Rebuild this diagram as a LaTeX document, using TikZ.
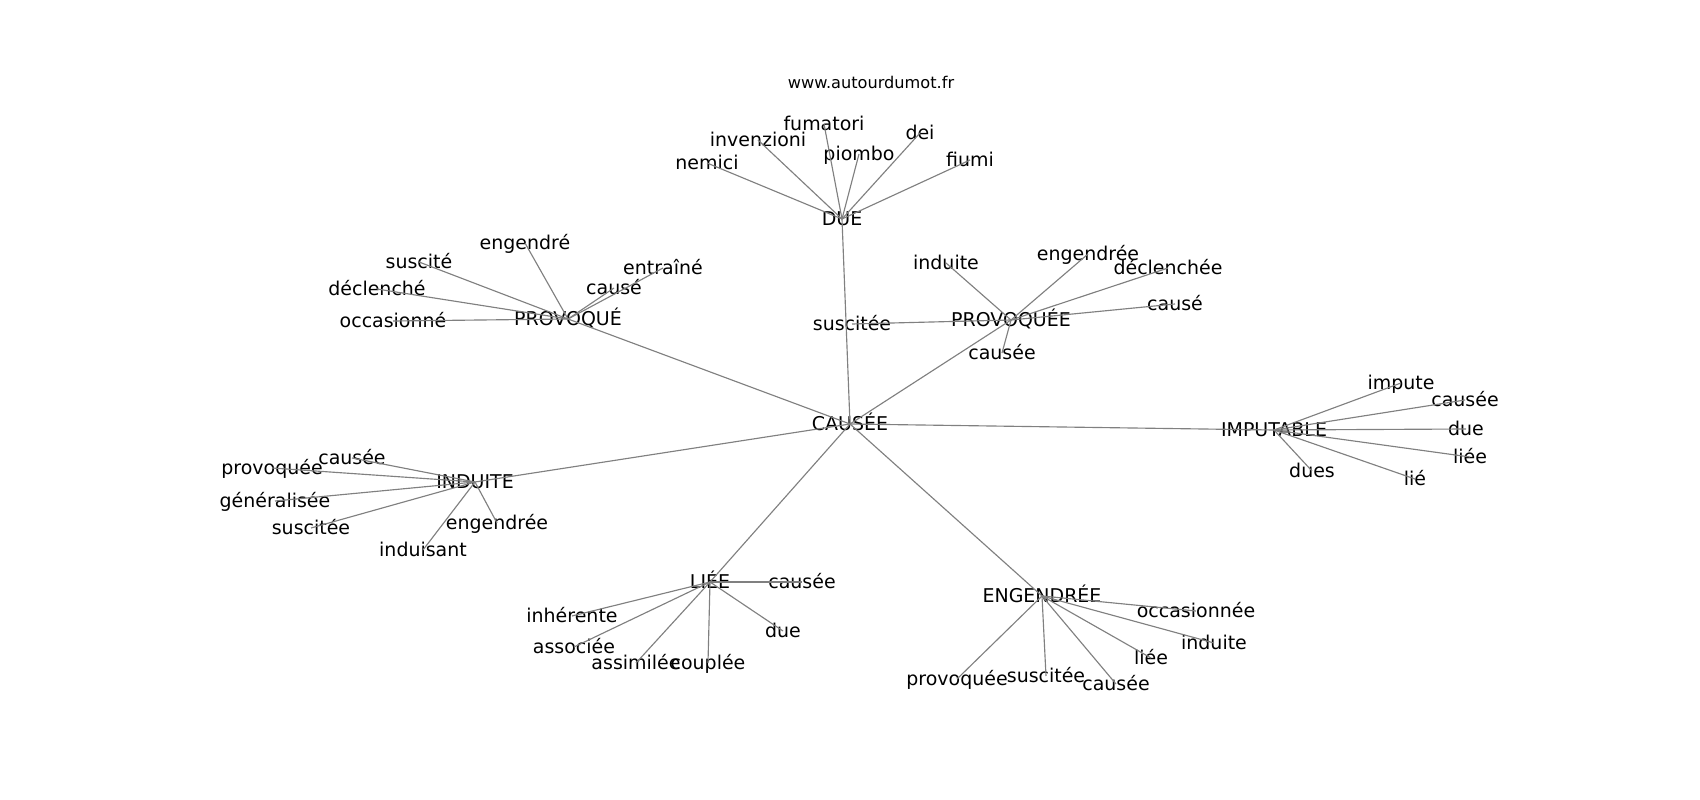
\documentclass[tikz,border=0pt]{standalone}
\usepackage{fontspec}
\setmainfont{DejaVu Sans}
\usepackage{tikz}
\usetikzlibrary{positioning}

\begin{document}
\begin{tikzpicture}[x=0.02cm, y=-0.02cm,
    word/.style={inner sep=0pt, text height=0.76em, text depth=0em,
        font=\fontsize{10.8}{13}\selectfont},
    link/.style={draw=black!50, line width=0.65pt}]
    \useasboundingbox (0,0) rectangle (1700,800);

    % Titre
    \node[inner sep=0pt, font=\fontsize{9.2}{11}\selectfont] (url) at (871,82) {www.autourdumot.fr};

    % Centre et mots principaux
    \node[word] (cause) at (850,424) {CAUSÉE};
    \node[word] (due) at (842,219) {DUE};
    \node[word] (provoque) at (568,319) {PROVOQUÉ};
    \node[word] (provoquee) at (1011,320) {PROVOQUÉE};
    \node[word] (imputable) at (1274,430) {IMPUTABLE};
    \node[word] (induite) at (475,482) {INDUITE};
    \node[word] (liee) at (710,582) {LIÉE};
    \node[word] (engendree) at (1042,596) {ENGENDRÉE};

    % Mots secondaires
    \foreach \n/\x/\y/\t in {d1/707/163/nemici, d2/758/140/invenzioni, d3/824/124/fumatori,
        d4/859/154/piombo, d5/920/133/dei, d6/970/160/fiumi} {
        \node[word] (\n) at (\x,\y) {\t};
    }
    \foreach \n/\x/\y/\t in {p1/525/243/engendré, p2/419/262/suscité, p3/377/289/déclenché,
        p4/393/321/occasionné, p5/614/288/causé, p6/663/268/entraîné} {
        \node[word] (\n) at (\x,\y) {\t};
    }
    \foreach \n/\x/\y/\t in {q1/946/263/induite, q2/1088/254/engendrée, q3/1168/268/déclenchée,
        q4/1175/304/causé, q5/1002/353/causée, q6/852/324/suscitée} {
        \node[word] (\n) at (\x,\y) {\t};
    }
    \foreach \n/\x/\y/\t in {m1/1401/383/impute, m2/1465/400/causée, m3/1466/429/due,
        m4/1470/457/liée, m5/1415/479/lié, m6/1312/471/dues} {
        \node[word] (\n) at (\x,\y) {\t};
    }
    \foreach \n/\x/\y/\t in {i1/352/458/causée, i2/272/468/provoquée, i3/275/501/généralisée,
        i4/311/528/suscitée, i5/423/550/induisant, i6/497/523/engendrée} {
        \node[word] (\n) at (\x,\y) {\t};
    }
    \foreach \n/\x/\y/\t in {l1/802/582/causée, l2/572/616/inhérente, l3/574/647/associée,
        l4/636/663/assimilée, l5/708/663/couplée, l6/783/631/due} {
        \node[word] (\n) at (\x,\y) {\t};
    }
    \foreach \n/\x/\y/\t in {e1/1196/611/occasionnée, e2/1214/643/induite, e3/1151/658/liée,
        e4/1116/684/causée, e5/1046/676/suscitée, e6/957/679/provoquée} {
        \node[word] (\n) at (\x,\y) {\t};
    }

    % Liens
    \foreach \b in {due, provoque, provoquee, imputable, induite, liee, engendree} {
        \draw[link] (cause.center) -- (\b.center);
    }
    \foreach \a/\p in {due/d, provoque/p, provoquee/q, imputable/m, induite/i, liee/l, engendree/e} {
        \foreach \i in {1,...,6} {
            \draw[link] (\a.center) -- (\p\i.center);
        }
    }
\end{tikzpicture}
\end{document}
